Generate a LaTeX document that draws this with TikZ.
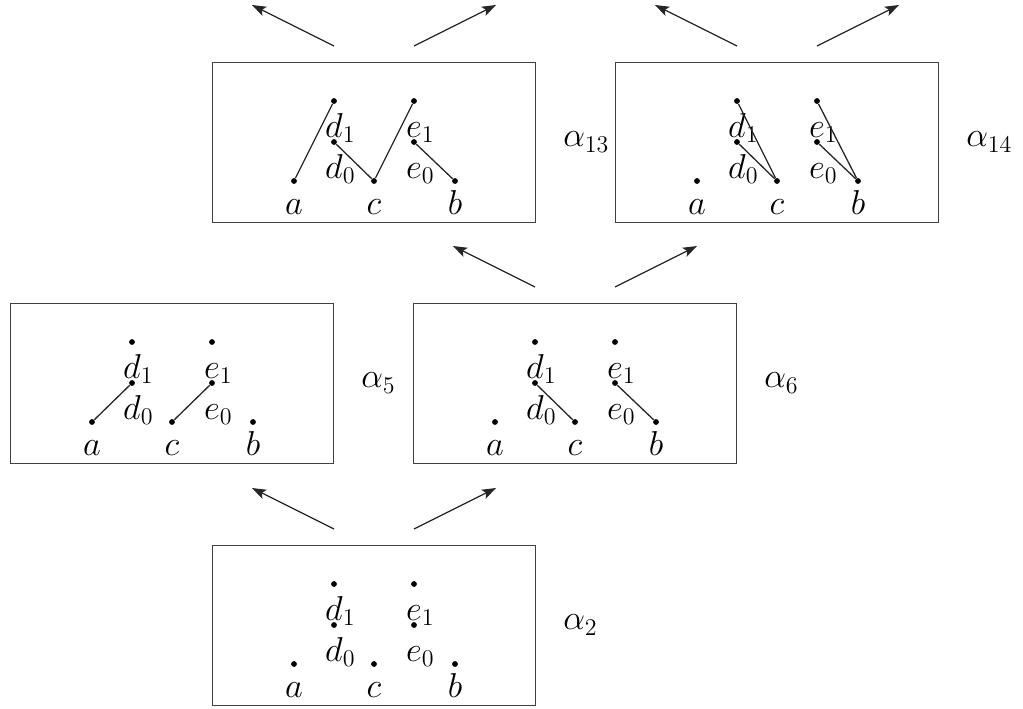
\documentclass[tikz,border=0pt]{standalone}
\usetikzlibrary{arrows.meta}
\tikzset{
 panelbox/.style={draw=black!75, line width=0.5pt, minimum width=161.5pt, minimum height=80pt, inner sep=0pt, anchor=north west},
 dot/.style={circle, fill=black, inner sep=0pt, minimum size=2.9pt},
 lab/.style={anchor=base, inner sep=0pt, font=\fontsize{16.5}{18}\selectfont},
 alab/.style={anchor=west, inner sep=0pt, font=\fontsize{16.5}{18}\selectfont},
 edge/.style={line width=0.65pt, black!85},
 arr/.style={line width=0.65pt, black!85, -{Stealth[length=7pt,width=5pt,inset=1.5pt]}},
}
\newcommand\mypanel[4]{% #1 prefix, #2 x0, #3 y0, #4 alpha index
 \node[panelbox] (#1box) at (#2,#3) {};
 \node[dot] (#1a) at (#2+82,#3+119) {};
 \node[dot] (#1c) at (#2+162,#3+119) {};
 \node[dot] (#1b) at (#2+243,#3+119) {};
 \node[dot] (#1done) at (#2+122,#3+39) {};
 \node[dot] (#1dzero) at (#2+122,#3+80) {};
 \node[dot] (#1eone) at (#2+202,#3+39) {};
 \node[dot] (#1ezero) at (#2+202,#3+80) {};
 \node[lab] (#1la) at (#2+82,#3+152) {$a$};
 \node[lab] (#1lc) at (#2+162,#3+152) {$c$};
 \node[lab] (#1lb) at (#2+243,#3+152) {$b$};
 \node[lab] (#1ldone) at (#2+122,#3+75) {$d\rlap{$_1$}$};
 \node[lab] (#1ldzero) at (#2+122,#3+116) {$d\rlap{$_0$}$};
 \node[lab] (#1leone) at (#2+202,#3+75) {$e\rlap{$_1$}$};
 \node[lab] (#1lezero) at (#2+202,#3+116) {$e\rlap{$_0$}$};
 \node[alab] (#1alpha) at (#2+351,#3+80) {$\alpha_{#4}$};
 \coordinate (#1sl) at (#2+122,#3-16);
 \coordinate (#1tl) at (#2+40,#3-57);
 \coordinate (#1sr) at (#2+202,#3-16);
 \coordinate (#1tr) at (#2+284,#3-57);
}
\begin{document}
\begin{tikzpicture}[x=0.5pt,y=-0.5pt]
 \useasboundingbox (0,0) rectangle (1023,708);
 \mypanel{p13}{212}{62}{13}
 \mypanel{p14}{615}{62}{14}
 \mypanel{p5}{10}{303}{5}
 \mypanel{p6}{413}{303}{6}
 \mypanel{p2}{212}{545}{2}
 % edges
 \draw[edge] (p5a) -- (p5dzero);
 \draw[edge] (p5c) -- (p5ezero);
 \draw[edge] (p6dzero) -- (p6c);
 \draw[edge] (p6ezero) -- (p6b);
 \draw[edge] (p13a) -- (p13done);
 \draw[edge] (p13dzero) -- (p13c);
 \draw[edge] (p13c) -- (p13eone);
 \draw[edge] (p13ezero) -- (p13b);
 \draw[edge] (p14done) -- (p14c);
 \draw[edge] (p14dzero) -- (p14c);
 \draw[edge] (p14eone) -- (p14b);
 \draw[edge] (p14ezero) -- (p14b);
 % arrows
 \foreach \p in {p2,p6,p13,p14}{
  \draw[arr] (\p sl) -- (\p tl);
  \draw[arr] (\p sr) -- (\p tr);
 }
\end{tikzpicture}
\end{document}
